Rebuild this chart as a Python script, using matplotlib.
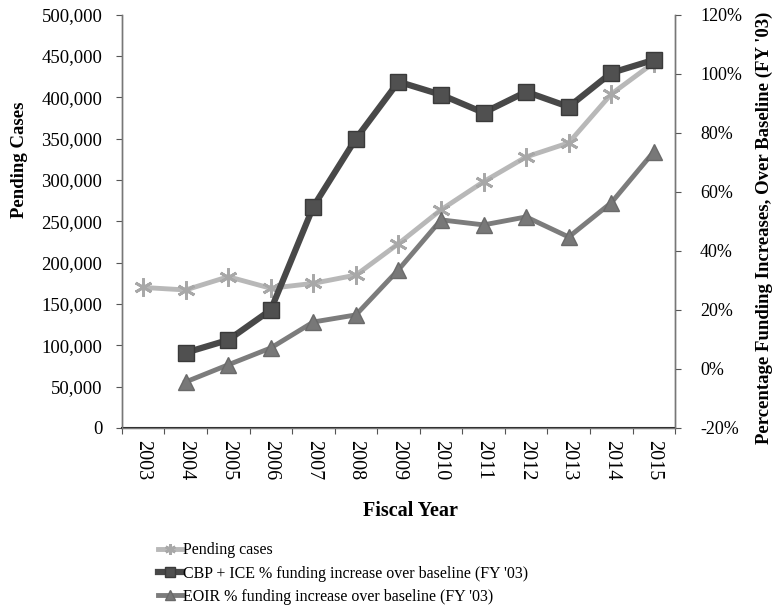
import numpy as np
import matplotlib
matplotlib.use("Agg")
import matplotlib.pyplot as plt
from matplotlib.ticker import FuncFormatter, FixedLocator, NullFormatter

# data
years = ["2003", "2004", "2005", "2006", "2007", "2008", "2009",
         "2010", "2011", "2012", "2013", "2014", "2015"]
pending = [170000, 167000, 183000, 169000, 175000, 185000, 223000,
           264000, 298000, 328000, 345000, 404000, 442000]
cbp_ice = [5.5, 9.8, 20.0, 55.0, 78.0, 97.3, 92.9, 86.8, 93.9, 88.8, 100.3, 104.7]
eoir = [-4.4, 1.4, 7.1, 15.9, 18.3, 33.6, 50.5, 48.8, 51.5, 44.7, 56.3, 73.6]

plt.rcParams["font.family"] = ["Liberation Serif", "DejaVu Serif"]
plt.rcParams["font.size"] = 13

fig = plt.figure(figsize=(7.76, 6.14), dpi=100)
ax = fig.add_axes([0.157, 0.303, 0.713, 0.673])
ax2 = ax.twinx()

x_all = np.arange(len(years))
x_pct = np.arange(1, len(years))

l1, = ax.plot(x_all, pending, color="#b8b8b8", lw=3.5, marker=(6, 2, 0), ms=13,
              mew=2, mec="#a8a8a8", label="Pending cases", zorder=2)
l2, = ax2.plot(x_pct, cbp_ice, color="#484848", lw=4.5, marker="s", ms=12,
               mec="#3a3a3a", mfc="#505050",
               label="CBP + ICE % funding increase over baseline (FY '03)", zorder=3)
l3, = ax2.plot(x_pct, eoir, color="#7c7c7c", lw=3.5, marker="^", ms=11,
               mec="#6a6a6a", mfc="#787878",
               label="EOIR % funding increase over baseline (FY '03)", zorder=3)

ax.set_xlim(-0.5, len(years) - 0.5)
ax.set_ylim(0, 500000)
ax2.set_ylim(-20, 120)
ax.set_yticks(np.arange(0, 500001, 50000))
ax.yaxis.set_major_formatter(FuncFormatter(lambda v, p: f"{int(v):,}"))
ax2.set_yticks(np.arange(-20, 121, 20))
ax2.yaxis.set_major_formatter(FuncFormatter(lambda v, p: f"{int(v)}%"))

# category boundaries carry the tick marks, centres carry the labels
ax.xaxis.set_major_locator(FixedLocator(np.arange(-0.5, len(years), 1.0)))
ax.xaxis.set_major_formatter(NullFormatter())
ax.xaxis.set_minor_locator(FixedLocator(x_all))
ax.set_xticklabels(years, minor=True, rotation=-90, fontsize=14.5)
ax.tick_params(axis="x", which="minor", length=0, pad=9)
ax.tick_params(axis="x", which="major", length=4, color="#555555")
ax.tick_params(axis="y", length=4, color="#555555", pad=10, labelsize=13.5)
ax2.tick_params(axis="y", length=4, color="#555555", pad=14, labelsize=13)

for a in (ax, ax2):
    a.spines["top"].set_visible(False)
    for s in ("left", "right", "bottom"):
        a.spines[s].set_color("#777777")
        a.spines[s].set_linewidth(1.0)
ax.spines["bottom"].set_color("#222222")
ax.spines["bottom"].set_linewidth(1.5)

fig.text(20 / 776, 1 - 160 / 614, "Pending Cases", rotation=90, ha="center",
         va="center", fontweight="bold", fontsize=13.5)
fig.text(764 / 776, 1 - 228 / 614,
         "Percentage Funding Increases, Over Baseline (FY '03)", rotation=90,
         ha="center", va="center", fontweight="bold", fontsize=13.5)
fig.text(410 / 776, 1 - 511 / 614, "Fiscal Year", ha="center", va="center",
         fontweight="bold", fontsize=14.5)

fig.legend(handles=[l1, l2, l3], loc="upper left", bbox_to_anchor=(0.195, 0.127),
           frameon=False, fontsize=11.5, handlelength=1.5, handletextpad=0.1,
           labelspacing=0.45, borderaxespad=0, markerscale=0.6)

fig.savefig("out.png", dpi=100)
